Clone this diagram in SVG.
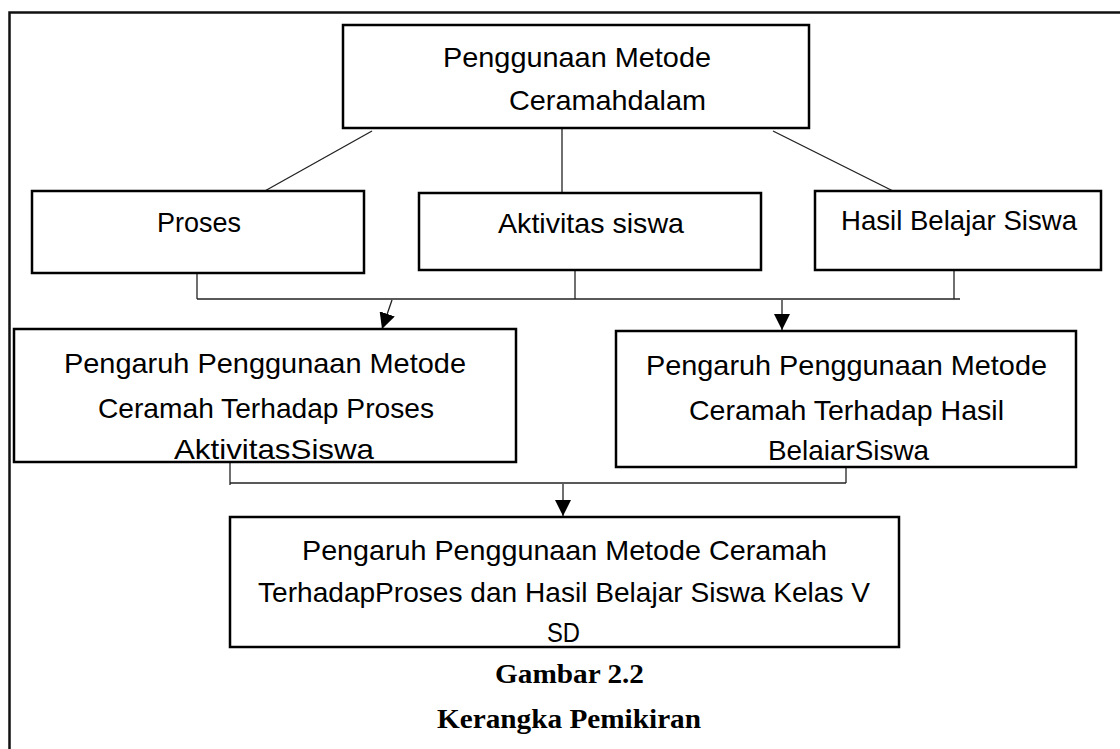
<svg xmlns="http://www.w3.org/2000/svg" width="1120" height="749" viewBox="0 0 1120 749">
<defs>
<style>
.box{fill:#fff;stroke:#000;stroke-width:2.5}
.t{font-family:"Liberation Sans",Arial,sans-serif;font-size:28px;fill:#000}
.c{font-family:"Liberation Serif","Times New Roman",serif;font-size:28px;font-weight:bold;fill:#000}
.ln{stroke:#222;stroke-width:1.3;fill:none}
</style>
<marker id="ah" viewBox="0 0 16 16" refX="16" refY="8" markerWidth="16" markerHeight="16" markerUnits="userSpaceOnUse" orient="auto">
<path d="M0,0 L16,8 L0,16 Z" fill="#000"/>
</marker>
</defs>
<rect width="1120" height="749" fill="#fff"/>
<path d="M1120,12.5 H9.5 V749" fill="none" stroke="#111" stroke-width="2.5"/>

<g id="connectors">
<line class="ln" x1="372" y1="131" x2="263" y2="192"/>
<line class="ln" x1="562" y1="128" x2="562" y2="196"/>
<line class="ln" x1="773" y1="131" x2="895" y2="192"/>
<line class="ln" x1="197" y1="273" x2="197" y2="299"/>
<line class="ln" x1="575" y1="270" x2="575" y2="299"/>
<line class="ln" x1="954" y1="267" x2="954" y2="299"/>
<line class="ln" x1="197" y1="299" x2="960" y2="299"/>
<line class="ln" x1="392" y1="300" x2="382" y2="329" marker-end="url(#ah)"/>
<line class="ln" x1="782" y1="300" x2="782" y2="330" marker-end="url(#ah)"/>
<line class="ln" x1="230" y1="462" x2="230" y2="485"/>
<line class="ln" x1="846" y1="467" x2="846" y2="483"/>
<line class="ln" x1="230" y1="483" x2="846" y2="483"/>
<line class="ln" x1="563" y1="484" x2="563" y2="516" marker-end="url(#ah)"/>
</g>

<g id="n-top">
<rect class="box" x="343" y="25" width="466" height="103"/>
<text class="t" x="443" y="67" textLength="268" lengthAdjust="spacingAndGlyphs">Penggunaan Metode</text>
<text class="t" x="509" y="110" textLength="197" lengthAdjust="spacingAndGlyphs">Ceramahdalam</text>
</g>

<g id="n-proses">
<rect class="box" x="32" y="191" width="332" height="82"/>
<text class="t" x="157" y="232" textLength="84" lengthAdjust="spacingAndGlyphs">Proses</text>
</g>

<g id="n-aktivitas">
<rect class="box" x="419" y="193" width="342" height="77"/>
<text class="t" x="498" y="233" textLength="186" lengthAdjust="spacingAndGlyphs">Aktivitas siswa</text>
</g>

<g id="n-hasil">
<rect class="box" x="815" y="191" width="286" height="79"/>
<text class="t" x="841" y="230" textLength="236" lengthAdjust="spacingAndGlyphs">Hasil Belajar Siswa</text>
</g>

<g id="n-pengaruh-aktivitas">
<rect class="box" x="14" y="329" width="502" height="133"/>
<text class="t" x="64" y="373" textLength="402" lengthAdjust="spacingAndGlyphs">Pengaruh Penggunaan Metode</text>
<text class="t" x="98" y="418" textLength="336" lengthAdjust="spacingAndGlyphs">Ceramah Terhadap Proses</text>
<text class="t" x="174" y="459" textLength="200" lengthAdjust="spacingAndGlyphs">AktivitasSiswa</text>
</g>

<g id="n-pengaruh-hasil">
<rect class="box" x="616" y="331" width="460" height="136"/>
<text class="t" x="646" y="375" textLength="401" lengthAdjust="spacingAndGlyphs">Pengaruh Penggunaan Metode</text>
<text class="t" x="689" y="420" textLength="315" lengthAdjust="spacingAndGlyphs">Ceramah Terhadap Hasil</text>
<text class="t" x="768" y="460" textLength="161" lengthAdjust="spacingAndGlyphs">BelaiarSiswa</text>
</g>

<g id="n-bottom">
<rect class="box" x="230" y="517" width="669" height="130"/>
<text class="t" x="302" y="560" textLength="525" lengthAdjust="spacingAndGlyphs">Pengaruh Penggunaan Metode Ceramah</text>
<text class="t" x="258" y="602" textLength="612" lengthAdjust="spacingAndGlyphs">TerhadapProses dan Hasil Belajar Siswa Kelas V</text>
<text class="t" x="547" y="642" textLength="33" lengthAdjust="spacingAndGlyphs">SD</text>
</g>

<g id="caption">
<text class="c" x="495" y="683" textLength="149" lengthAdjust="spacingAndGlyphs">Gambar 2.2</text>
<text class="c" x="437" y="728" textLength="264" lengthAdjust="spacingAndGlyphs">Kerangka Pemikiran</text>
</g>
</svg>
